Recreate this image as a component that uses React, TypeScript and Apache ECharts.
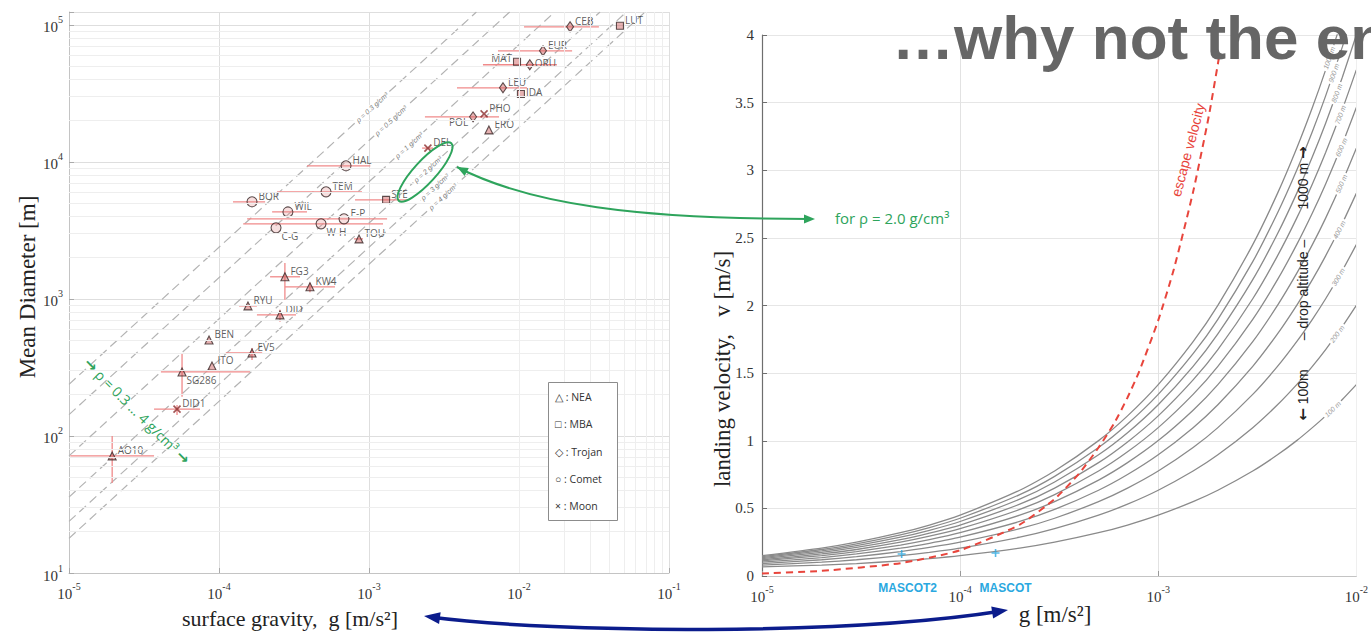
import React, { useEffect, useRef } from "react";
import * as echarts from "echarts";

// ---------------- Left chart: small bodies ----------------
const bodyNames = ["CEB","LUT","EUR","MAT","ORU","LEU","IDA","PHO","POL","ERO","DEL","HAL","TEM","STE","BOR","WIL","E-P","W-H","C-G","TOU","FG3","KW4","RYU","DID","BEN","EV5","ITO","SG286","DID1","AO10"];
const bodyTypes = ["Trojan","MBA","Trojan","MBA","Trojan","Trojan","MBA","Moon","Trojan","NEA","Moon","Comet","Comet","MBA","Comet","Comet","Comet","Comet","Comet","NEA","NEA","NEA","NEA","NEA","NEA","NEA","NEA","NEA","Moon","NEA"];
const bodyGravity = [0.0219,0.0471,0.01445,0.0097,0.0118,0.00782,0.0103,0.00585,0.00494,0.0063,0.00247,0.000703,0.000517,0.0013,0.000166,0.000288,0.000681,0.000479,0.00024,0.000858,0.000275,0.000404,0.000156,0.000255,0.0000858,0.000166,0.0000898,0.0000567,0.0000525,0.0000194];
const bodyDiameter = [96700,98300,64600,53700,51100,34700,31300,22400,21300,17100,12600,9360,6040,5280,5110,4310,3840,3530,3300,2740,1450,1225,889,764,501,403,324,293,157,71.5];
const gravityLow = [0.0108,null,0.00724,null,0.00575,0.00386,null,null,0.00236,null,0.00226,0.000386,0.000244,0.000807,0.000124,0.000226,0.000154,0.000145,null,0.000794,0.000219,0.000275,0.000136,0.000179,null,0.000111,null,0.000041,0.0000369,0.0000102];
const gravityHigh = [0.0341,null,0.0226,null,0.0179,0.0113,null,null,0.00736,null,0.00267,0.00102,0.000898,0.00179,0.000203,0.000386,0.00132,0.00124,null,0.000912,0.000347,0.000593,0.000179,0.000326,null,0.000194,null,0.000161,0.0000747,0.0000369];
const diameterLow = [null,null,null,null,null,null,null,null,null,null,null,null,null,null,null,null,null,null,null,null,985,1120,null,680,null,359,null,193,142,45.4];
const diameterHigh = [null,null,null,null,null,null,null,null,null,null,null,null,null,null,null,null,null,null,null,null,1830,1310,null,832,null,438,null,403,168,100];

const bodyClasses = ["NEA","MBA","Trojan","Comet","Moon"];
const legendTexts = ["△ : NEA","□ : MBA","◇ : Trojan","○ : Comet","× : Moon"];

// density reference lines (read end points)
const densityLabels = ["ρ = 0.3 g/cm³","ρ = 0.5 g/cm³","ρ = 1 g/cm³","ρ = 2 g/cm³","ρ = 3 g/cm³","ρ = 4 g/cm³"];
const densityStartG = [1e-5,1e-5,1e-5,1e-5,1e-5,1e-5];
const densityStartD = [238,143,71.5,35.8,23.8,17.9];
const densityEndG = [0.0052,0.00867,0.0173,0.0347,0.052,0.0693];
const densityEndD = [124000,124000,124000,124000,124000,124000];
const densityLabelG = [0.00105,0.0014,0.00185,0.00247,0.00275,0.00311];
const densityLabelD = [25000,20000,13200,8830,6560,5560];

// ---------------- Right chart: landing velocity ----------------
const impactG = [1e-5,2e-5,3e-5,5e-5,7e-5,1e-4,2e-4,3e-4,5e-4,7e-4,1e-3,1.5e-3,2e-3,3e-3,4e-3,5e-3,6e-3,7e-3,8.5e-3,1e-2];
const dropAltitudes = ["100 m","200 m","300 m","400 m","500 m","600 m","700 m","800 m","900 m","1000 m"];
const velocity100 = [0.067,0.081,0.092,0.112,0.128,0.15,0.206,0.25,0.32,0.377,0.45,0.55,0.634,0.776,0.896,1.001,1.097,1.184,1.305,1.415];
const velocity200 = [0.081,0.102,0.12,0.15,0.175,0.206,0.287,0.35,0.45,0.531,0.634,0.776,0.896,1.097,1.266,1.415,1.55,1.674,1.845,2.001];
const velocity300 = [0.092,0.12,0.143,0.18,0.211,0.25,0.35,0.427,0.55,0.65,0.776,0.95,1.097,1.343,1.55,1.733,1.898,2.05,2.259,2.45];
const velocity400 = [0.102,0.136,0.163,0.206,0.242,0.287,0.403,0.492,0.634,0.75,0.896,1.097,1.266,1.55,1.79,2.001,2.191,2.367,2.608,2.829];
const velocity500 = [0.112,0.15,0.18,0.229,0.269,0.32,0.45,0.55,0.709,0.838,1.001,1.226,1.415,1.733,2.001,2.237,2.45,2.646,2.916,3.163];
const velocity600 = [0.12,0.163,0.196,0.25,0.294,0.35,0.492,0.602,0.776,0.918,1.097,1.343,1.55,1.898,2.191,2.45,2.684,2.899,3.194,3.464];
const velocity700 = [0.128,0.175,0.211,0.269,0.317,0.377,0.531,0.65,0.838,0.991,1.184,1.45,1.674,2.05,2.367,2.646,2.899,3.131,3.45,3.742];
const velocity800 = [0.136,0.186,0.225,0.287,0.338,0.403,0.568,0.695,0.896,1.059,1.266,1.55,1.79,2.191,2.53,2.829,3.099,3.347,3.688,4.0];
const velocity900 = [0.143,0.196,0.238,0.304,0.358,0.427,0.602,0.737,0.95,1.124,1.343,1.644,1.898,2.324,2.684,3.0,3.287,3.55,3.912,4.243];
const velocity1000 = [0.15,0.206,0.25,0.32,0.377,0.45,0.634,0.776,1.001,1.184,1.415,1.733,2.001,2.45,2.829,3.163,3.464,3.742,4.123,4.472];
const velocityCurves = [velocity100,velocity200,velocity300,velocity400,velocity500,velocity600,velocity700,velocity800,velocity900,velocity1000];
const curveLabelG = [0.0076,0.008,0.0081,0.0082,0.0084,0.0084,0.0083,0.00797,0.0077,0.0073];
const curveLabelV = [1.234,1.79,2.21,2.56,2.9,3.17,3.41,3.57,3.72,3.83];

const escapeG = [1e-5,2e-5,5e-5,1e-4,2e-4,3e-4,4e-4,5e-4,6e-4,7e-4,8e-4,1e-3,1.2e-3,1.5e-3,1.8e-3,2.04e-3];
const escapeV = [0.019,0.038,0.095,0.19,0.38,0.57,0.76,0.95,1.13,1.32,1.51,1.89,2.27,2.84,3.4,3.86];

const landerNames = ["MASCOT2","MASCOT"];
const landerG = [5.07e-5,1.51e-4];
const landerV = [0.163,0.17];

// ---------------- styling ----------------
const SERIF = "'Liberation Serif', 'Times New Roman', serif";
const SANS = "'Liberation Sans', Arial, sans-serif";
const CAL = "'Liberation Sans Narrow', 'Open Sans', sans-serif";
const GREEN = "#2ea45c";
const NAVY = "#0b1c8c";

const labelPlacement: Record<string, string> = { MAT: "left", POL: "leftlow", "C-G": "below", "W-H": "below", SG286: "below", IDA: "right", ORU: "right" };
const classSymbol: Record<string, any> = { NEA: "triangle", MBA: "rect", Trojan: "diamond", Comet: "circle", Moon: "path://M0,0L10,10M10,0L0,10" };
const classSize: Record<string, any> = { NEA: 8, MBA: 7, Trojan: [7, 10], Comet: 10, Moon: 7 };
const curveLabelRot = [44, 55, 60, 63, 66, 67, 69, 70, 71, 71];

function powLabel(v: number) {
  const e = Math.log10(v);
  const r = Math.round(e);
  if (Math.abs(e - r) > 1e-6) return "";
  return `{b|10}{s|${r}}`;
}
const powRich = {
  b: { fontFamily: SERIF, fontSize: 15, color: "#333", lineHeight: 20, verticalAlign: "bottom" },
  s: { fontFamily: SERIF, fontSize: 10, color: "#333", lineHeight: 20, verticalAlign: "top" },
};

function decadeMinors(fromExp: number, toExp: number, maxVal: number) {
  const out: number[] = [];
  for (let d = fromExp; d <= toExp; d++) {
    for (let k = 2; k <= 9; k++) {
      const v = k * Math.pow(10, d);
      if (v < maxVal) out.push(v);
    }
  }
  return out;
}

function labelFor(name: string) {
  const p = labelPlacement[name] || "above";
  const base: any = { show: true, formatter: name, fontFamily: CAL, fontSize: 10, color: "#333" };
  if (p === "left") return { ...base, position: "left", distance: 1, offset: [0, -4] };
  if (p === "leftlow") return { ...base, position: "left", distance: 1, offset: [0, 5] };
  if (p === "below") return { ...base, position: "right", distance: 1, offset: [-1, 8] };
  if (p === "right") return { ...base, position: "right", distance: 1, offset: [0, -2] };
  return { ...base, position: "right", distance: 1, offset: [0, -6] };
}

function buildOption() {
  const series: any[] = [];
  series.push({
    type: "line", xAxisIndex: 0, yAxisIndex: 0, data: [[1e-5, 10]], symbol: "none", lineStyle: { opacity: 0 }, z: 0, silent: true,
    markLine: {
      silent: true, symbol: ["none", "none"], label: { show: false },
      lineStyle: { color: "#eeeeee", width: 1, type: "solid" },
      data: [
        ...decadeMinors(-5, -2, 0.1).map((v) => ({ xAxis: v })),
        ...decadeMinors(1, 4, 124000).map((v) => ({ yAxis: v })),
      ],
    },
  });
  series.push({
    type: "line", xAxisIndex: 1, yAxisIndex: 1, data: [[1e-5, 0]], symbol: "none", lineStyle: { opacity: 0 }, z: 0, silent: true,
    markLine: {
      silent: true, symbol: ["none", "none"], label: { show: false },
      lineStyle: { color: "#efefef", width: 1, type: "solid" },
      data: decadeMinors(-5, -3, 0.01).map((v) => ({ xAxis: v })),
    },
  });
  densityLabels.forEach((lab, i) => {
    series.push({
      type: "line", name: lab, xAxisIndex: 0, yAxisIndex: 0, showSymbol: false, symbol: "none", z: 1,
      data: [[densityStartG[i], densityStartD[i]], [densityEndG[i], densityEndD[i]]],
      lineStyle: { color: "#b3b3b3", width: 1.2, type: [9, 5] },
    });
  });
  const hBars: number[][] = [];
  const vBars: number[][] = [];
  bodyNames.forEach((n, i) => {
    if (gravityLow[i] != null) hBars.push([gravityLow[i] as number, gravityHigh[i] as number, bodyDiameter[i]]);
    if (diameterLow[i] != null) vBars.push([bodyGravity[i], diameterLow[i] as number, diameterHigh[i] as number]);
  });
  series.push({
    type: "custom", xAxisIndex: 0, yAxisIndex: 0, z: 2, silent: true, data: hBars,
    encode: { x: [0, 1], y: 2 },
    renderItem: (params: any, api: any) => {
      const p1 = api.coord([api.value(0), api.value(2)]);
      const p2 = api.coord([api.value(1), api.value(2)]);
      return { type: "line", shape: { x1: p1[0], y1: p1[1], x2: p2[0], y2: p2[1] }, style: { stroke: "#f08a8a", lineWidth: 1.3 } };
    },
  });
  series.push({
    type: "custom", xAxisIndex: 0, yAxisIndex: 0, z: 2, silent: true, data: vBars,
    encode: { x: 0, y: [1, 2] },
    renderItem: (params: any, api: any) => {
      const p1 = api.coord([api.value(0), api.value(1)]);
      const p2 = api.coord([api.value(0), api.value(2)]);
      return { type: "line", shape: { x1: p1[0], y1: p1[1], x2: p2[0], y2: p2[1] }, style: { stroke: "#f08a8a", lineWidth: 1.3 } };
    },
  });
  bodyClasses.forEach((cls) => {
    const data: any[] = [];
    bodyNames.forEach((n, i) => {
      if (bodyTypes[i] === cls) data.push({ name: n, value: [bodyGravity[i], bodyDiameter[i]], label: labelFor(n) });
    });
    series.push({
      type: "scatter", name: cls, xAxisIndex: 0, yAxisIndex: 0, z: 3,
      symbol: classSymbol[cls], symbolSize: classSize[cls], data,
      itemStyle: cls === "Moon"
        ? { color: "rgba(0,0,0,0)", borderColor: "#8a2a2a", borderWidth: 1.6 }
        : { color: cls === "Comet" ? "rgba(225,140,140,0.35)" : "rgba(205,95,95,0.6)", borderColor: "#3a2828", borderWidth: 1.1 },
    });
  });
  dropAltitudes.forEach((h, i) => {
    series.push({
      type: "line", name: h, xAxisIndex: 1, yAxisIndex: 1, showSymbol: false, symbol: "none", z: 2,
      smooth: 0.2,
      data: impactG.map((g, j) => [g, velocityCurves[i][j]]),
      lineStyle: { color: "#8a8a8a", width: 1.3 },
    });
  });
  series.push({
    type: "line", name: "escape velocity", xAxisIndex: 1, yAxisIndex: 1, showSymbol: false, symbol: "none", z: 3,
    smooth: 0.2,
    data: escapeG.map((g, j) => [g, escapeV[j]]),
    lineStyle: { color: "#e8453c", width: 2, type: [7, 5] },
  });
  series.push({
    type: "scatter", name: "landers", xAxisIndex: 1, yAxisIndex: 1, z: 4,
    symbol: "path://M5,0L5,10M0,5L10,5", symbolSize: 8,
    data: landerNames.map((n, i) => ({ name: n, value: [landerG[i], landerV[i]] })),
    itemStyle: { color: "rgba(0,0,0,0)", borderColor: "#2aa8e0", borderWidth: 1.6 },
  });

  return {
    animation: false,
    backgroundColor: "#ffffff",
    grid: [
      { left: 69, top: 12, width: 600, height: 561 },
      { left: 762, top: 35, width: 598, height: 541 },
    ],
    xAxis: [
      {
        type: "log", logBase: 10, gridIndex: 0, min: 1e-5, max: 0.1,
        axisLine: { show: true, lineStyle: { color: "#c4c4c4" } },
        axisTick: { show: true, inside: true, length: 5, lineStyle: { color: "#aaa" } },
        axisLabel: { formatter: powLabel, rich: powRich, margin: 8 },
        splitLine: { show: true, lineStyle: { color: "#dedede" } },
      },
      {
        type: "log", logBase: 10, gridIndex: 1, min: 1e-5, max: 1e-2,
        axisLine: { show: true, lineStyle: { color: "#c4c4c4" } },
        axisTick: { show: true, inside: true, length: 5, lineStyle: { color: "#999" } },
        axisLabel: { formatter: powLabel, rich: powRich, margin: 8 },
        splitLine: { show: true, lineStyle: { color: "#e2e2e2" } },
      },
    ],
    yAxis: [
      {
        type: "log", logBase: 10, gridIndex: 0, min: 10, max: 124000,
        axisLine: { show: true, lineStyle: { color: "#c4c4c4" } },
        axisTick: { show: true, inside: true, length: 5, lineStyle: { color: "#aaa" } },
        axisLabel: { formatter: powLabel, rich: powRich, margin: 6 },
        splitLine: { show: true, lineStyle: { color: "#dedede" } },
      },
      {
        type: "value", gridIndex: 1, min: 0, max: 4, interval: 0.5,
        axisLine: { show: true, lineStyle: { color: "#6e6e6e", width: 1.2 } },
        axisTick: { show: true, inside: true, length: 5, lineStyle: { color: "#6e6e6e" } },
        axisLabel: { fontFamily: SERIF, fontSize: 15, color: "#333", margin: 8 },
        splitLine: { show: true, lineStyle: { color: "#e6e6e6" } },
      },
    ],
    series,
  };
}

function arrowHead(tipX: number, tipY: number, fromX: number, fromY: number, size: number, half: number, color: string) {
  const dx = tipX - fromX, dy = tipY - fromY;
  const L = Math.hypot(dx, dy) || 1;
  const ux = dx / L, uy = dy / L;
  const bx = tipX - ux * size, by = tipY - uy * size;
  const px = -uy * half, py = ux * half;
  return { type: "polygon", z: 120, shape: { points: [[tipX, tipY], [bx + px, by + py], [bx - px, by - py]] }, style: { fill: color } };
}

function buildGraphics(chart: any) {
  const g: any[] = [];
  const toL = (x: number, y: number) => chart.convertToPixel({ gridIndex: 0 }, [x, y]);
  const toR = (x: number, y: number) => chart.convertToPixel({ gridIndex: 1 }, [x, y]);
  const arrowRich = (color: string, size: number) => ({
    a: { fontFamily: "'DejaVu Sans', sans-serif", fontSize: size, fontWeight: "bold", fill: color },
  });

  g.push({ type: "text", x: 892, y: 6, z: 150, style: { text: "…why not the en", fontFamily: SANS, fontWeight: "bold", fontSize: 62, fill: "#666666", verticalAlign: "top" } });

  g.push({ type: "text", x: 27, y: 287, rotation: Math.PI / 2, z: 100, style: { text: "Mean Diameter [m]", fontFamily: SERIF, fontSize: 23, fill: "#222", align: "center", verticalAlign: "middle" } });
  g.push({ type: "text", x: 290, y: 618, z: 100, style: { text: "surface gravity,  g [m/s²]", fontFamily: SERIF, fontSize: 22, fill: "#222", align: "center", verticalAlign: "middle" } });
  g.push({ type: "text", x: 722, y: 369, rotation: Math.PI / 2, z: 100, style: { text: "landing velocity,   v [m/s]", fontFamily: SERIF, fontSize: 23, fill: "#222", align: "center", verticalAlign: "middle" } });
  g.push({ type: "text", x: 1055, y: 614, z: 100, style: { text: "g [m/s²]", fontFamily: SERIF, fontSize: 23, fill: "#222", align: "center", verticalAlign: "middle" } });

  densityLabels.forEach((lab, i) => {
    const p = toL(densityLabelG[i], densityLabelD[i]);
    g.push({ type: "text", x: p[0], y: p[1], rotation: 0.74, z: 90, style: { text: lab, fontFamily: SANS, fontStyle: "italic", fontSize: 7, fill: "#7a7a7a", align: "center", verticalAlign: "middle", backgroundColor: "#fff", padding: [0, 2] } });
  });

  g.push({ type: "rect", z: 95, shape: { x: 548.5, y: 382.5, width: 69, height: 138 }, style: { fill: "#fff", stroke: "#8c8c8c", lineWidth: 1 } });
  legendTexts.forEach((t, i) => {
    g.push({ type: "text", x: 555, y: 397 + i * 27.3, z: 96, style: { text: t, fontFamily: CAL, fontSize: 10.5, fill: "#333", verticalAlign: "middle" } });
  });

  g.push({ type: "ellipse", x: 425, y: 172, rotation: 0.83, z: 110, shape: { cx: 0, cy: 0, rx: 39, ry: 11 }, style: { fill: "none", stroke: GREEN, lineWidth: 2 } });
  const gs = [457, 167], gc1 = [530, 205], gc2 = [640, 219], ge = [815, 219];
  g.push({ type: "bezierCurve", z: 110, shape: { x1: gs[0], y1: gs[1], cpx1: gc1[0], cpy1: gc1[1], cpx2: gc2[0], cpy2: gc2[1], x2: ge[0] - 6, y2: ge[1] }, style: { stroke: GREEN, lineWidth: 2, fill: "none" } });
  g.push(arrowHead(gs[0], gs[1], gc1[0], gc1[1], 11, 4.5, GREEN));
  g.push(arrowHead(ge[0], ge[1], gc2[0], gc2[1], 11, 4.5, GREEN));
  g.push({ type: "text", x: 835, y: 218, z: 110, style: { text: "for ρ = 2.0 g/cm³", fontFamily: "'Open Sans', sans-serif", fontSize: 15, fill: GREEN, verticalAlign: "middle" } });
  g.push({ type: "text", x: 137, y: 411, rotation: -0.785, z: 110, style: { text: "{a|→} ρ = 0.3 … 4 g/cm³ {a|→}", rich: arrowRich(GREEN, 15), fontFamily: "'Open Sans', sans-serif", fontSize: 14, fill: GREEN, align: "center", verticalAlign: "middle" } });

  const ns = [424, 616], nc1 = [560, 634], nc2 = [850, 635], ne = [1008, 610];
  g.push({ type: "bezierCurve", z: 110, shape: { x1: ns[0] + 6, y1: ns[1] + 1, cpx1: nc1[0], cpy1: nc1[1], cpx2: nc2[0], cpy2: nc2[1], x2: ne[0] - 6, y2: ne[1] + 1 }, style: { stroke: NAVY, lineWidth: 3.5, fill: "none" } });
  g.push(arrowHead(ns[0], ns[1], nc1[0], nc1[1], 16, 6, NAVY));
  g.push(arrowHead(ne[0], ne[1], nc2[0], nc2[1], 16, 6, NAVY));

  dropAltitudes.forEach((h, i) => {
    const p = toR(curveLabelG[i], curveLabelV[i]);
    g.push({ type: "text", x: p[0], y: p[1], rotation: (curveLabelRot[i] * Math.PI) / 180, z: 90, style: { text: h, fontFamily: SANS, fontStyle: "italic", fontSize: 7, fill: "#9a9a9a", align: "center", verticalAlign: "middle", backgroundColor: "#fff", padding: [0, 2] } });
  });
  g.push({ type: "text", x: 1188, y: 150, rotation: 1.31, z: 100, style: { text: "escape velocity", fontFamily: SANS, fontSize: 14, fill: "#e8453c", align: "center", verticalAlign: "middle" } });
  g.push({ type: "text", x: 1303, y: 178, rotation: Math.PI / 2, z: 100, style: { text: "1000 m {a|→}", rich: arrowRich("#222", 15), fontFamily: SANS, fontSize: 14, fill: "#222", align: "center", verticalAlign: "middle" } });
  g.push({ type: "text", x: 1303, y: 290, rotation: Math.PI / 2, z: 100, style: { text: "– drop altitude –", fontFamily: SANS, fontSize: 14, fill: "#222", align: "center", verticalAlign: "middle" } });
  g.push({ type: "text", x: 1303, y: 395, rotation: Math.PI / 2, z: 100, style: { text: "{a|←} 100m", rich: arrowRich("#222", 15), fontFamily: SANS, fontSize: 14, fill: "#222", align: "center", verticalAlign: "middle" } });
  landerNames.forEach((n, i) => {
    const p = toR(landerG[i], 0);
    g.push({ type: "text", x: p[0] + (i === 0 ? 6 : 10), y: 588, z: 100, style: { text: n, fontFamily: SANS, fontWeight: "bold", fontSize: 12, fill: "#2aa8e0", align: "center", verticalAlign: "middle" } });
  });
  return g;
}

export default function App() {
  const ref = useRef<HTMLDivElement>(null);
  useEffect(() => {
    const chart = echarts.init(ref.current as HTMLDivElement, null, { renderer: "svg" });
    chart.setOption(buildOption() as any);
    chart.setOption({ graphic: buildGraphics(chart) } as any);
    return () => chart.dispose();
  }, []);
  return <div ref={ref} style={{ position: "fixed", left: 0, top: 0, width: 1371, height: 635, background: "#fff" }} />;
}
